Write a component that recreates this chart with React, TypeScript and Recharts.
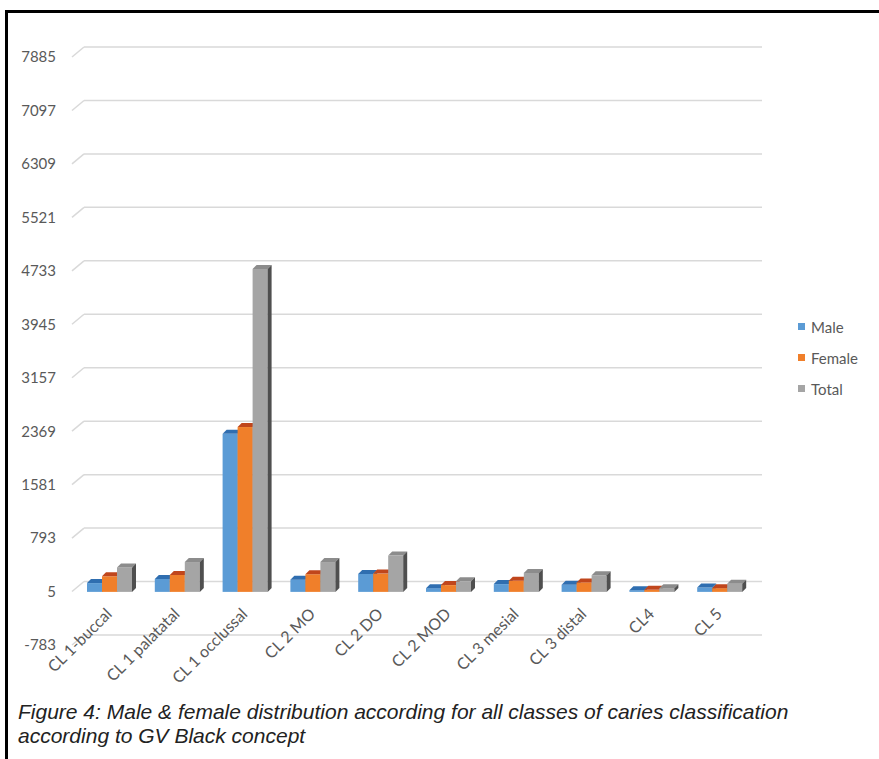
import { BarChart, Bar, XAxis, YAxis, CartesianGrid, Legend } from 'recharts';

const categories = [
  'CL 1-buccal',
  'CL 1 palatatal',
  'CL 1 occlussal',
  'CL 2 MO',
  'CL 2 DO',
  'CL 2 MOD',
  'CL 3 mesial',
  'CL 3 distal',
  'CL4',
  'CL 5',
];
const seriesNames = ['Male', 'Female', 'Total'];
const male = [130, 190, 2330, 180, 265, 55, 115, 105, 25, 65];
const female = [230, 250, 2430, 260, 270, 100, 165, 140, 30, 55];
const total = [360, 440, 4760, 440, 535, 155, 280, 245, 55, 120];
const yTicks = [-783, 5, 793, 1581, 2369, 3157, 3945, 4733, 5521, 6309, 7097, 7885];

const data = categories.map((name, i) => ({
  name,
  male: male[i],
  female: female[i],
  total: total[i],
}));

const DEPTH = 4;
const FONT = 'Lato, "Open Sans", sans-serif';

// front / top / side colours for the fake 3D columns
const shades: Record<string, { top: string; side: string }> = {
  '#5B9BD5': { top: '#2F6EB0', side: '#3B6F9F' },
  '#F07F2A': { top: '#C0461C', side: '#B55A1E' },
  '#A5A5A5': { top: '#8C8C8C', side: '#4F4F4F' },
};

function Column3D(props: any) {
  const { x, y, width, height, fill } = props;
  if (width == null || height == null) return null;
  const s = shades[fill] || { top: fill, side: fill };
  const d = DEPTH;
  return (
    <g>
      <rect x={x} y={y} width={width} height={height} fill={fill} />
      <polygon
        points={`${x},${y} ${x + d},${y - d} ${x + width + d},${y - d} ${x + width},${y}`}
        fill={s.top}
      />
      <polygon
        points={`${x + width},${y} ${x + width + d},${y - d} ${x + width + d},${y + height - d} ${x + width},${y + height}`}
        fill={s.side}
      />
    </g>
  );
}

function GridLine(p: any) {
  const { x1, x2, y1 } = p;
  return (
    <g key={p.key}>
      <line x1={x1 - 3} y1={y1} x2={x1 + 9} y2={y1 - 10} stroke="#D9D9D9" strokeWidth={1.5} />
      <line x1={x1 + 9} y1={y1 - 10} x2={x2 + 9} y2={y1 - 10} stroke="#D9D9D9" strokeWidth={1.5} />
    </g>
  );
}

function CategoryTick({ x, y, payload }: any) {
  return (
    <g transform={`translate(${x + 4},${y - 30})`}>
      <text textAnchor="end" transform="rotate(-45)" fontSize={16} fill="#595959" fontFamily={FONT}>
        {payload.value}
      </text>
    </g>
  );
}

function LegendBox({ payload }: any) {
  const items = [...(payload || [])].sort(
    (a: any, b: any) => seriesNames.indexOf(a.value) - seriesNames.indexOf(b.value)
  );
  return (
    <div style={{ fontFamily: FONT, fontSize: 15, color: '#595959' }}>
      {items.map((item: any) => (
        <div key={item.value} style={{ display: 'flex', alignItems: 'center', height: 31 }}>
          <span style={{ width: 7, height: 7, background: item.color, marginRight: 6 }} />
          <span>{item.value}</span>
        </div>
      ))}
    </div>
  );
}

export default function App() {
  return (
    <div
      style={{
        position: 'absolute',
        left: 0,
        top: 0,
        width: 879,
        height: 759,
        overflow: 'hidden',
        background: '#fff',
      }}
    >
      <div
        style={{
          position: 'absolute',
          left: 5,
          top: 10,
          width: 920,
          height: 800,
          border: '3px solid #000',
        }}
      />
      <div style={{ position: 'absolute', left: 0, top: 0 }}>
        <BarChart
          width={879}
          height={759}
          data={data}
          margin={{ top: 57, right: 126, left: 15, bottom: 84 }}
          barCategoryGap={12}
          barGap={0}
        >
          <CartesianGrid vertical={false} horizontal={GridLine} />
          <XAxis
            dataKey="name"
            axisLine={false}
            tickLine={false}
            tickSize={0}
            tickMargin={0}
            interval={0}
            height={30}
            tick={CategoryTick}
          />
          <YAxis
            type="number"
            domain={[-783, 7885]}
            ticks={yTicks}
            interval={0}
            axisLine={false}
            tickLine={false}
            tickSize={0}
            tickMargin={19}
            width={60}
            tick={{ fontSize: 15, fill: '#595959', fontFamily: FONT }}
          />
          <Legend
            layout="vertical"
            align="center"
            verticalAlign="middle"
            wrapperStyle={{ left: 798, top: 311, width: 80 }}
            content={LegendBox}
          />
          <Bar dataKey="male" name="Male" fill="#5B9BD5" shape={Column3D} isAnimationActive={false} />
          <Bar dataKey="female" name="Female" fill="#F07F2A" shape={Column3D} isAnimationActive={false} />
          <Bar dataKey="total" name="Total" fill="#A5A5A5" shape={Column3D} isAnimationActive={false} />
        </BarChart>
      </div>
      <div
        style={{
          position: 'absolute',
          left: 18,
          top: 700,
          width: 850,
          fontFamily: '"Liberation Sans", Arial, sans-serif',
          fontStyle: 'italic',
          fontSize: 21,
          lineHeight: '24px',
          color: '#222',
          whiteSpace: 'nowrap',
        }}
      >
        Figure 4: Male &amp; female distribution according for all classes of caries classification
        <br />
        according to GV Black concept
      </div>
    </div>
  );
}
